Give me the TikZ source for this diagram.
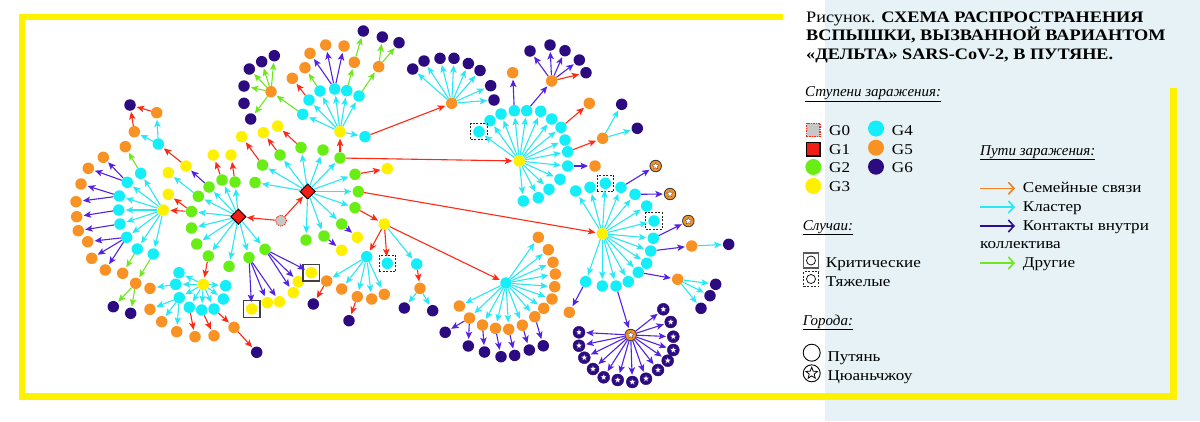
\documentclass[tikz,border=0pt]{standalone}
\usepackage{fontspec}
\setmainfont{Liberation Serif}
\newfontfamily\widefont{Liberation Serif}[FakeStretch=1.14]
\usetikzlibrary{arrows.meta,shapes.geometric}
\definecolor{ncy}{RGB}{20,238,248}
\definecolor{nor}{RGB}{248,146,36}
\definecolor{ngr}{RGB}{104,238,20}
\definecolor{nye}{RGB}{255,240,0}
\definecolor{npu}{RGB}{44,10,128}
\definecolor{acy}{RGB}{40,232,245}
\definecolor{ared}{RGB}{255,40,20}
\definecolor{apu}{RGB}{82,34,228}
\definecolor{agr}{RGB}{110,232,30}
\definecolor{lor}{RGB}{248,128,30}
\definecolor{lpu}{RGB}{45,14,140}
\definecolor{bgb}{RGB}{230,242,245}
\definecolor{fry}{RGB}{255,242,0}
\definecolor{dred}{RGB}{240,30,20}
\tikzset{
  nd/.style={circle,inner sep=0pt,minimum size=11.5pt,draw=none},
  cy/.style={nd,fill=ncy},
  or/.style={nd,fill=nor},
  gr/.style={nd,fill=ngr},
  ye/.style={nd,fill=nye},
  pu/.style={nd,fill=npu},
  starpic/.style={path picture={\begin{scope}[shift={(path picture bounding box.center)},x=1pt,y=1pt]
     \filldraw[fill=white,draw=#1,line width=0.3pt] (90:3.6)--(126:1.6)--(162:3.6)--(198:1.6)--(234:3.6)--(270:1.6)--(306:3.6)--(342:1.6)--(18:3.6)--(54:1.6)--cycle;\end{scope}}},
  sto/.style={circle,inner sep=0pt,minimum size=11.5pt,fill=nor,draw=black!75,line width=0.9pt,starpic=black!70},
  stp/.style={circle,inner sep=0pt,minimum size=12pt,fill=npu,draw=npu,starpic=npu},
  diam/.style={diamond,inner sep=0pt,minimum size=15.5pt,fill=dred,draw=black,line width=1pt},
  gzero/.style={circle,inner sep=0pt,minimum size=11pt,fill=black!22,draw=ared,dash pattern=on 1.2pt off 1pt,line width=0.9pt},
  critbox/.style={rectangle,minimum size=16.5pt,inner sep=0pt,draw=black!75,line width=1.3pt},
  heavybox/.style={rectangle,minimum size=16.5pt,inner sep=0pt,draw=black!85,line width=1pt,dash pattern=on 2pt off 1.5pt},
  arr/.style={line width=1.1pt,-{Stealth[length=7.5pt,width=6.5pt,inset=1.8pt]},shorten >=1pt},
  ac/.style={arr,draw=acy},
  ar/.style={arr,draw=ared},
  ap/.style={arr,draw=apu},
  ag/.style={arr,draw=agr},
  legarr/.style={line width=1.6pt,-{Straight Barb[length=5.5pt,width=12pt]}},
  txt/.style={anchor=base west,inner sep=0pt,font=\widefont\fontsize{15}{18}\selectfont},
  hdr/.style={anchor=base west,inner sep=0pt,font=\fontsize{15}{18}\selectfont\itshape},
  ttl/.style={anchor=base west,inner sep=0pt,font=\widefont\fontsize{16}{18}\selectfont}
}
\begin{document}
\begin{tikzpicture}[x=1pt,y=-1pt]
\useasboundingbox (0,0) rectangle (1200,421);
\fill[bgb] (825,0) rectangle (1200,421);
\draw[fry,line width=6.7pt] (783,17) -- (22,17) -- (22,396.7) -- (1173.3,396.7) -- (1173.3,88);

% ---------- nodes ----------
\foreach \n/\x/\y in {c1/140.7/173.3, c2/127.3/182.3, c3/119.3/196, c4/118.7/210, c5/120/224, c6/126.7/237.3, c7/137.3/249, c8/153.3/254,
 cc1/158.3/144,
 d1/179/272.7, d2/175.7/284.3, d3/179.3/297.7, d4/189.3/307.3, d5/201.7/310, d6/214/309, d7/223.3/299, d8/225.7/285.7,
 t1/302.7/114.3, t2/309/100, t3/320/91, t4/334.7/89, t5/346.7/90.7, t6/359/96, t7/365/136.7,
 n1/490/120.7, n2/501/114, n3/514.3/110.7, n4/526.7/110.7, n5/540.7/111.3, n6/551.7/119, n7/561/127.3, n8/565/140, n9/567.7/151.7, n10/567.7/166, n11/560/179.3, n12/549/189.3, n13/538.3/197.7, n14/523.3/201, nb/479/131.7,
 k1/575.7/191, k2/590/187.3, kb1/605.3/183.3, k4/621/187.3, k5/635/194.3, k6/646.7/206, kb2/654/221, k8/653.3/238.3, k9/650.7/251, k10/646.7/263.3, k11/638.3/272.3, k12/628.3/281.7, k13/616/286, k14/602.3/286, k15/585.7/281.7,
 C5/506/283, w1/366.7/256.7, wb/387.3/263.3, w2/416.7/264}
 \node[cy] (\n) at (\x,\y) {};

\foreach \n/\x/\y in {o1/103.3/157.3, o2/88.3/168.3, o3/81/184, o4/76/201.7, o5/76.7/216.7, o6/78.3/230.7, o7/87.7/241.7, o8/91.7/258.3, o9/105.3/270, o10/122.7/273.3, o11/135.7/283.3, o12/125.3/146.7, o13/156.7/112.7, o14/134.3/131.7,
 e1/150/288.3, e2/150/309.3, e3/161.7/321.7, e4/176.7/331.7, e5/195/336.7, e6/214/335.7, e7/234/327.3,
 to1/271/91.7, to2/292.3/78.3, to3/305/67.7, to4/310/53.3, to5/325.7/45, to6/344/46, to7/354.3/62.3, to8/378.7/66.7,
 O1/451.7/103.3, or1/512.7/72.7, or2/551.7/81, or3/589.3/103.3, or4/602.7/138.3, or5/595/166, or6/691.7/246, or7/677.7/279.3, or8/569.3/312.3,
 u1/459.3/306, u2/469.5/318, u3/482.5/325, u4/495.5/328.3, u5/508.7/329.3, u6/522.3/325.2, u7/534.8/316.7, u8/543.7/308.3, u9/552/299, u10/554.7/286.7, u11/555.3/274, u12/553/262.2, u13/548.3/249.7, u14/538.3/237.3,
 x1/326.7/281, x2/341.7/289, x3/357.3/296.7, x4/371.7/299, x5/384.3/294.3, x6/420/288.3}
 \node[or] (\n) at (\x,\y) {};

\foreach \n/\x/\y in {p1/113.3/306.7, p2/130.7/313.3, p3/130/105, p4/256.7/352.3,
 q1/244/86, q2/244/103.3, q3/250.7/119, q4/249.3/69, q5/261.7/61.7, q6/274.3/55.7,
 qq1/363.3/31, qq2/382.3/37, qq3/399/42.7,
 m1/412.7/69, m2/424/61, m3/440/58.3, m4/454/58.3, m5/468.3/63.5, m6/480/70.5, m7/490.7/85.7, m8/494/100,
 mm1/530/51, mm2/550/45, mm3/565/50.7, mm4/579.3/60, mm5/586/72.7,
 mp1/621.7/104.3, mp2/637.3/128.3,
 pp1/728.7/244.3, pp2/715.7/284.3, pp3/710/295.7, pp4/701/308.3,
 v1/445.2/332.3, v2/468.3/346, v3/484.5/352, v4/501/356.7, v5/514.7/355.4, v6/529.3/350, v7/543.3/345.8,
 y1/313.3/304, y2/349/320.7, y3/404.3/308, y4/432.7/310.7}
 \node[pu] (\n) at (\x,\y) {};

\foreach \n/\x/\y in {gL1/222/180, gL2/235/182, gL3/209/187, gL4/198.3/196.3, gL5/191.5/211.5, gL6/191.5/228, gL7/196.7/244, gL8/208.3/256, gL9/229/266.3, gL10/249/257.5, gL11/265/249.3,
 gR1/301/147.5, gR2/323/150, gR3/340/158, gR4/280/155, gR5/262.5/165, gR6/255/182.5, gR7/355/174.3, gR8/358.3/191.5, gR9/355/207.7, gR10/341.7/224, gR11/324/236, gR12/306/240}
 \node[gr] (\n) at (\x,\y) {};

\foreach \n/\x/\y in {yL1/213.3/155, yL2/231/155, yL3/186/166, yL4/168.3/172.7, yL5/168.3/194.3, YL/163.3/210, yLB/203.3/284.3,
 yR1/241.7/136.7, yR2/263.3/132.7, yR3/277.7/126, T/340/131.7, yR5/387.3/168.7, yR6/384.3/224, yR7/357.3/237.3, yR8/341.7/250.3,
 yb1/251.7/309, yb2/267.3/302.7, yb3/279.5/301.7, yb4/293.3/292.7, yb5/298.3/281.7, yb6/311.2/272.7,
 Y2/519.3/161, Y3/602.3/233.7}
 \node[ye] (\n) at (\x,\y) {};

\foreach \n/\x/\y in {s1/655.7/166, s2/670/194, s3/688.3/221, SH/630.7/335}
 \node[sto] (\n) at (\x,\y) {};
\foreach \n/\x/\y in {ps1/579/332.3, ps2/579/345.7, ps3/584.3/357.7, ps4/593/369, ps5/603.7/377.3, ps6/617.7/380, ps7/632.3/382, ps8/646/378.7, ps9/658/370, ps10/667.7/360.7, ps11/673.3/350, ps12/673.3/336.7, ps13/670.7/322, ps14/663.3/309.3}
 \node[stp] (\n) at (\x,\y) {};

\node[diam] (L) at (238.3,216.7) {};
\node[diam] (R) at (307.7,191.5) {};
\node[gzero] (G0) at (281,220.7) {};

\node[critbox] (bxa) at (yb1) {};
\node[critbox] (bxb) at (yb6) {};
\foreach \b/\t in {hba/wb, hbb/nb, hbc/kb1, hbd/kb2}
 \node[heavybox] (\b) at (\t) {};

% ---------- arrows ----------
\foreach \a/\b in {L/gL1,L/gL2,L/gL3,L/gL4,L/gL5,L/gL6,L/gL7,L/gL8,L/gL9,L/gL10,L/gL11,
 R/gR1,R/gR2,R/gR3,R/gR4,R/gR5,R/gR6,R/gR7,R/gR8,R/gR9,R/gR10,R/gR11,R/gR12,
 YL/c1,YL/c2,YL/c3,YL/c4,YL/c5,YL/c6,YL/c7,YL/c8,
 yLB/d1,yLB/d2,yLB/d3,yLB/d4,yLB/d5,yLB/d6,yLB/d7,yLB/d8,
 T/t1,T/t2,T/t3,T/t4,T/t5,T/t6,T/t7,
 O1/m1,O1/m2,O1/m3,O1/m4,O1/m5,O1/m6,O1/m7,O1/m8,
 Y2/n1,Y2/n2,Y2/n3,Y2/n4,Y2/n5,Y2/n6,Y2/n7,Y2/n8,Y2/n9,Y2/n10,Y2/n11,Y2/n12,Y2/n13,Y2/n14,Y2/nb,
 Y3/k1,Y3/k2,Y3/kb1,Y3/k4,Y3/k5,Y3/k6,Y3/kb2,Y3/k8,Y3/k9,Y3/k10,Y3/k11,Y3/k12,Y3/k13,Y3/k14,Y3/k15,
 C5/u1,C5/u2,C5/u3,C5/u4,C5/u5,C5/u6,C5/u7,C5/u8,C5/u9,C5/u10,C5/u11,C5/u12,C5/u13,C5/u14,
 w1/x1,w1/x2,w1/x3,w1/x4,w1/x5,x6/y3,x6/y4,gL4/yL4,cc1/o13,cc1/o14,d2/e1,d3/e2,d3/e3,d3/e4,
 or4/mp1,or4/mp2,or6/pp1,or7/pp2,or7/pp3,or7/pp4,yR6/w2}
 \draw[ac] (\a) -- (\b);

\foreach \a/\b in {G0/L,G0/R,gL1/yL1,gL2/yL2,gL5/YL,gL5/yL5,gL8/yLB,
 gR5/yR1,gR4/yR2,gR1/yR3,gR3/T,gR7/yR5,gR9/yR6,gR3/Y2,gR8/Y3,yR6/C5,t7/O1,
 yL3/cc1,o13/p3,o14/p3,d4/e5,d5/e6,d6/e7,e7/p4,t2/to2,or2/mm5,n7/or3,n9/or4,
 yR6/w1,yR6/wb,x1/y1,x3/y2,w2/x6}
 \draw[ar] (\a) -- (\b);

\foreach \a/\b in {gL3/yL3,gL10/yb1,gL10/yb2,gL10/yb3,gL11/yb4,gL11/yb5,gL11/yb6,gR10/yR7,gR11/yR8,
 c2/o1,c2/o2,c3/o3,c3/o4,c4/o5,c5/o6,c6/o7,c6/o8,c6/o9,
 t4/to4,t4/to5,t4/to6,n3/or1,n4/or2,or2/mm1,or2/mm2,or2/mm3,or2/mm4,n10/or5,
 k4/s1,k5/s2,k8/s3,k9/or6,k11/or7,k15/or8,k13/SH,
 SH/ps1,SH/ps2,SH/ps3,SH/ps4,SH/ps5,SH/ps6,SH/ps7,SH/ps8,SH/ps9,SH/ps10,SH/ps11,SH/ps12,SH/ps13,SH/ps14,
 u2/v1,u2/v2,u3/v3,u4/v4,u5/v5,u6/v6,u7/v7}
 \draw[ap] (\a) -- (\b);

\foreach \a/\b in {c1/o12,c7/o10,c8/o11,o11/p1,o11/p2,t1/to1,to1/q1,to1/q3,to1/q4,to1/q5,to1/q6,
 t3/to3,t5/to7,t6/to8,to7/qq1,to8/qq2,to8/qq3}
 \draw[ag] (\a) -- (\b);

% ---------- title ----------
\node[ttl] (ti1) at (806,22) {Рисунок. \textbf{СХЕМА РАСПРОСТРАНЕНИЯ}};
\node[ttl] (ti2) at (806,40.7) {\textbf{ВСПЫШКИ, ВЫЗВАННОЙ ВАРИАНТОМ}};
\node[ttl] (ti3) at (806,59.3) {\textbf{«ДЕЛЬТА» SARS-CoV-2, В ПУТЯНЕ.}};

% ---------- legend: stages ----------
\node[hdr] (h1) at (805,96.7) {\underline{Ступени заражения:}};
\node[rectangle,minimum size=13.5pt,inner sep=0pt,fill=black!22,draw=ared,dash pattern=on 1.5pt off 1pt,line width=1.2pt] (lg0) at (813.3,130) {};
\node[rectangle,minimum size=13.5pt,inner sep=0pt,fill=dred,draw=black,line width=1.5pt] (lg1) at (813.3,149) {};
\node[circle,minimum size=16pt,inner sep=0pt,fill=ngr] (lg2) at (813.3,167) {};
\node[circle,minimum size=16pt,inner sep=0pt,fill=nye] (lg3) at (813.3,186) {};
\node[circle,minimum size=16pt,inner sep=0pt,fill=ncy] (lg4) at (876,128.5) {};
\node[circle,minimum size=16pt,inner sep=0pt,fill=nor] (lg5) at (876,147.7) {};
\node[circle,minimum size=16pt,inner sep=0pt,fill=npu] (lg6) at (876,166.7) {};
\node[txt] (lt0) at (829,135) {G0};
\node[txt] (lt1) at (829,154) {G1};
\node[txt] (lt2) at (829,172.7) {G2};
\node[txt] (lt3) at (829,191.7) {G3};
\node[txt] (lt4) at (891.7,135) {G4};
\node[txt] (lt5) at (891.7,154) {G5};
\node[txt] (lt6) at (891.7,172.7) {G6};

% ---------- legend: routes ----------
\node[hdr] (h2) at (980,155) {\underline{Пути заражения:}};
\coordinate (la1) at (980,188.3); \coordinate (lb1) at (1015,188.3);
\coordinate (la2) at (980,207);   \coordinate (lb2) at (1015,207);
\coordinate (la3) at (980,226);   \coordinate (lb3) at (1015,226);
\coordinate (la4) at (980,263);   \coordinate (lb4) at (1015,263);
\draw[legarr,lor] (la1) -- (lb1);
\draw[legarr,acy] (la2) -- (lb2);
\draw[legarr,lpu] (la3) -- (lb3);
\draw[legarr,agr] (la4) -- (lb4);
\node[txt] (lr1) at (1022.7,192.7) {Семейные связи};
\node[txt] (lr2) at (1022.7,211.7) {Кластер};
\node[txt] (lr3) at (1022.7,230) {Контакты внутри};
\node[txt] (lr3b) at (980,248.3) {коллектива};
\node[txt] (lr4) at (1022.7,267.3) {Другие};

% ---------- legend: cases ----------
\node[hdr] (h3) at (802.7,230) {\underline{Случаи:}};
\node[critbox,minimum size=15pt,draw=black!65] (lc1) at (811,260.5) {};
\node[circle,minimum size=9pt,inner sep=0pt,fill=white,draw=black,line width=0.7pt] (lc1c) at (811,260.5) {};
\node[heavybox,minimum size=15pt] (lc2) at (811,279) {};
\node[circle,minimum size=9pt,inner sep=0pt,fill=white,draw=black,line width=0.7pt] (lc2c) at (811,279) {};
\node[txt] (lct1) at (825.7,267.3) {Критические};
\node[txt] (lct2) at (825.7,286) {Тяжелые};

% ---------- legend: cities ----------
\node[hdr] (h4) at (802.7,325) {\underline{Города:}};
\node[circle,minimum size=17pt,inner sep=0pt,fill=white,draw=black,line width=0.9pt] (lci1) at (811.7,352.7) {};
\node[circle,minimum size=17pt,inner sep=0pt,fill=white,draw=black,line width=0.9pt,
  path picture={\begin{scope}[shift={(path picture bounding box.center)},x=1pt,y=1pt]
  \draw[black,line width=0.8pt] (90:6)--(126:2.6)--(162:6)--(198:2.6)--(234:6)--(270:2.6)--(306:6)--(342:2.6)--(18:6)--(54:2.6)--cycle;\end{scope}}] (lci2) at (811.7,373.3) {};
\node[txt] (lcit1) at (827.3,361.7) {Путянь};
\node[txt] (lcit2) at (827.3,380) {Цюаньчжоу};
\end{tikzpicture}
\end{document}
